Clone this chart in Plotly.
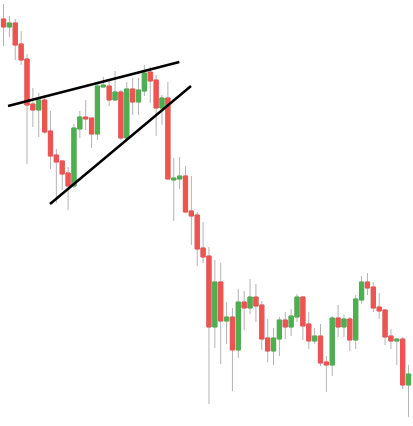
import plotly.graph_objects as go

idx = list(range(70))
open_ = [411, 403, 407, 386, 371, 326, 320, 330, 299, 275, 269, 257, 244, 301, 313, 312, 296, 343, 344, 330,
         338, 292, 341, 328, 339, 358, 350, 322, 332, 250, 251, 254, 219, 215, 182, 174, 103, 148, 109, 113,
         80, 128, 122, 133, 125, 92, 79, 91, 110, 103, 113, 133, 106, 89, 94, 68, 65, 112, 103, 111,
         90, 130, 148, 143, 123, 120, 94, 89, 91, 45]
high = [426, 414, 411, 399, 376, 342, 337, 333, 319, 281, 270, 263, 306, 319, 330, 312, 348, 353, 350, 359,
        340, 348, 352, 352, 365, 363, 355, 335, 348, 272, 273, 264, 254, 218, 208, 183, 170, 167, 128, 122,
        141, 139, 151, 146, 129, 111, 102, 113, 118, 121, 136, 134, 118, 102, 106, 74, 114, 125, 115, 113,
        135, 154, 157, 148, 137, 121, 101, 91, 93, 65]
low = [384, 393, 370, 365, 266, 303, 293, 296, 261, 227, 240, 220, 242, 292, 300, 282, 290, 343, 324, 330,
       290, 290, 315, 315, 334, 327, 294, 305, 250, 209, 241, 217, 185, 164, 167, 26, 82, 66, 86, 39,
       72, 100, 116, 108, 80, 68, 65, 74, 91, 94, 108, 90, 81, 86, 64, 38, 54, 93, 93, 79,
       81, 126, 135, 118, 111, 85, 81, 65, 41, 13]
close = [403, 407, 385, 370, 325, 320, 330, 298, 274, 268, 256, 244, 302, 313, 311, 296, 344, 345, 330, 338,
         292, 341, 328, 340, 357, 349, 322, 332, 251, 252, 254, 218, 214, 181, 173, 103, 148, 109, 113, 80,
         128, 122, 133, 124, 91, 79, 92, 110, 103, 114, 133, 104, 89, 94, 67, 65, 112, 103, 111, 90,
         131, 148, 142, 122, 119, 93, 89, 91, 45, 56]

# trend lines (bar index, price)
upper_x = [0.77, 29.95]
upper_y = [324, 368]
lower_x = [7.92, 31.94]
lower_y = [226, 344]

RED = "#ef5350"
GREEN = "#4caf50"
WICK = "#b3b3b3"

body_hi = [max(o, c) for o, c in zip(open_, close)]
body_lo = [min(o, c) for o, c in zip(open_, close)]

fig = go.Figure()
# wicks
fig.add_trace(go.Candlestick(
    x=idx, open=open_, high=high, low=low, close=close,
    increasing=dict(line=dict(color=WICK, width=1), fillcolor=WICK),
    decreasing=dict(line=dict(color=WICK, width=1), fillcolor=WICK),
    whiskerwidth=0, hoverinfo="skip", showlegend=False))
# bodies
fig.add_trace(go.Candlestick(
    x=idx, open=open_, high=body_hi, low=body_lo, close=close,
    increasing=dict(line=dict(color=GREEN, width=1), fillcolor=GREEN),
    decreasing=dict(line=dict(color=RED, width=1), fillcolor=RED),
    whiskerwidth=0, hoverinfo="skip", showlegend=False))
fig.add_trace(go.Scatter(x=upper_x, y=upper_y, mode="lines",
                         line=dict(color="black", width=2.5), hoverinfo="skip", showlegend=False))
fig.add_trace(go.Scatter(x=lower_x, y=lower_y, mode="lines",
                         line=dict(color="black", width=2.5), hoverinfo="skip", showlegend=False))

fig.update_layout(
    width=413, height=426,
    margin=dict(l=0, r=0, t=0, b=0),
    paper_bgcolor="white", plot_bgcolor="white",
    showlegend=False,
    boxmode="overlay", boxgap=0.28, boxgroupgap=0,
    xaxis=dict(range=[-0.6, 69.76], visible=False, showgrid=False, zeroline=False,
               rangeslider=dict(visible=False), fixedrange=True),
    yaxis=dict(range=[4, 430], visible=False, showgrid=False, zeroline=False, fixedrange=True),
)

fig.write_html("out.html", config={"displayModeBar": False},
               post_script="document.body.style.margin='0';document.body.style.overflow='hidden';")
